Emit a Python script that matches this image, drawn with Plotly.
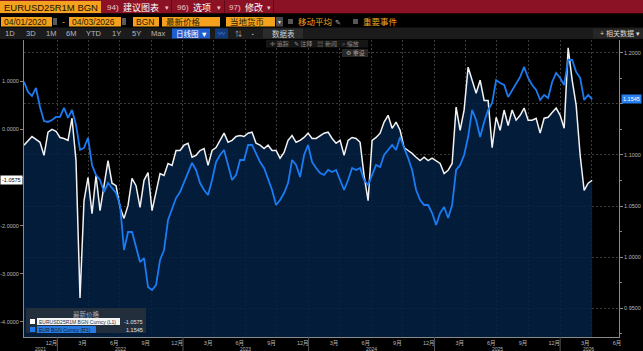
import pandas as pd
import plotly.graph_objects as go

# ---------------- data ----------------
START = "2021-09-26"
END = "2026-04-04"

rr_1m = [-0.33, -0.23, -0.15, -0.21, -0.27, -0.54, -0.06, 0.0, -0.04, -0.17,
         -0.19, -0.23, 0.23, -0.65, -3.5, -1.48, -1.0, -1.75, -0.96, -1.69,
         -1.12, -0.65, -1.12, -1.17, -1.62, -1.85, -1.58, -1.02, -1.17, -1.62,
         -1.06, -0.9, -1.69, -1.27, -0.92, -0.96, -0.71, -0.75, -0.44, -0.44,
         -0.33, -0.29, -0.58, -0.54, -0.44, -0.4, -0.75, -0.44, -0.38, -0.23,
         -0.08, -0.27, -0.23, -0.15, -0.13, -0.15, -0.08, -0.06, -0.29, -0.33,
         -0.4, -0.33, -0.44, -0.44, -0.6, -0.48, -0.23, -0.13, -0.27, -0.23,
         -0.17, -0.08, -0.19, -0.19, -0.13, -0.08, -0.06, -0.19, -0.29, -0.23,
         -0.54, -0.23, -0.17, -0.19, -0.27, -0.96, -1.48, -0.23, -0.17, -0.08,
         0.15, 0.29, 0.02, 0.15, -0.02, -0.38, -0.44, -0.5, -0.58, -0.65,
         -0.58, -0.65, -0.6, -0.65, -0.71, -0.92, -0.85, -0.71, 0.46, -0.02,
         0.4, 1.29, 1.02, 0.75, 1.02, 0.6, 0.6, -0.38, 0.25, -0.02,
         0.4, 0.08, 0.4, 0.19, 0.29, 0.44, 0.19, 0.19, 0.23, -0.08,
         0.23, 0.25, 0.35, 0.44, 0.29, 0.02, 1.69, 1.02, 0.5, -0.54,
         -1.27, -1.12, -1.0575]

eurusd = [1.1716, 1.1618, 1.1578, 1.1657, 1.1471, 1.1333, 1.1324, 1.1343, 1.1373, 1.1373,
          1.1461, 1.1363, 1.1441, 1.1294, 1.1049, 1.1069, 1.1167, 1.0902, 1.0804, 1.0755,
          1.0637, 1.0725, 1.0676, 1.0627, 1.051, 1.0069, 1.0245, 1.0245, 1.0098, 0.995,
          0.999, 0.9706, 0.9676, 0.9725, 0.9971, 1.0069, 1.0363, 1.048, 1.0578, 1.0637,
          1.0735, 1.0833, 1.0922, 1.0853, 1.0725, 1.0657, 1.0608, 1.0755, 1.0931, 1.1,
          1.1049, 1.0902, 1.0755, 1.0804, 1.0951, 1.0951, 1.1098, 1.1098, 1.102, 1.0931,
          1.0873, 1.0755, 1.0657, 1.051, 1.0559, 1.0627, 1.0725, 1.0951, 1.0902, 1.0784,
          1.1, 1.1098, 1.0931, 1.0873, 1.0824, 1.0804, 1.0853, 1.0833, 1.0853, 1.0755,
          1.0657, 1.0755, 1.0873, 1.0853, 1.0873, 1.0755, 1.0706, 1.0804, 1.0902, 1.0882,
          1.1, 1.1049, 1.1098, 1.1049, 1.1176, 1.1069, 1.0971, 1.0853, 1.0657, 1.0559,
          1.051, 1.051, 1.0431, 1.0314, 1.0431, 1.049, 1.0382, 1.051, 1.0853, 1.0902,
          1.1, 1.1176, 1.1441, 1.1343, 1.1176, 1.1324, 1.1441, 1.151, 1.1735, 1.1706,
          1.1686, 1.1569, 1.1637, 1.1706, 1.1765, 1.1863, 1.1755, 1.1686, 1.1637, 1.1539,
          1.1588, 1.1559, 1.1716, 1.1804, 1.1755, 1.1686, 1.1931, 1.1931, 1.1814, 1.1755,
          1.1539, 1.1588, 1.1545]

dates = pd.date_range(START, END, periods=len(rr_1m))

left_ticks = [1.0, 0.0, -1.0, -2.0, -3.0, -4.0]
left_tick_text = ["1.0000", "0.0000", "", "-2.0000", "-3.0000", "-4.0000"]
right_ticks = [0.95, 1.0, 1.05, 1.1, 1.15, 1.2]
right_tick_text = ["0.9500", "1.0000", "1.0500", "1.1000", "", "1.2000"]
right_minor = [0.925, 0.975, 1.025, 1.075, 1.125, 1.175]
month_tick_dates = ["2021-12-15", "2022-03-15", "2022-06-15", "2022-09-15", "2022-12-15",
                    "2023-03-15", "2023-06-15", "2023-09-15", "2023-12-15",
                    "2024-03-15", "2024-06-15", "2024-09-15", "2024-12-15",
                    "2025-03-15", "2025-06-15", "2025-09-15", "2025-12-15",
                    "2026-03-15", "2026-06-15"]
month_tick_text = ["12月", "3月", "6月", "9月", "12月", "3月", "6月", "9月", "12月",
                   "3月", "6月", "9月", "12月", "3月", "6月", "9月", "12月", "3月", "6月"]
quarter_grid = ["2022-01-01", "2022-04-01", "2022-07-01", "2022-10-01",
                "2023-01-01", "2023-04-01", "2023-07-01", "2023-10-01",
                "2024-01-01", "2024-04-01", "2024-07-01", "2024-10-01",
                "2025-01-01", "2025-04-01", "2025-07-01", "2025-10-01",
                "2026-01-01", "2026-04-01"]
year_labels = ["2021", "2022", "2023", "2024", "2025", "2026"]
year_label_pos = ["2021-11-12", "2022-07-02", "2023-07-02", "2024-07-01", "2025-07-02", "2026-03-25"]
year_starts = ["2022-01-01", "2023-01-01", "2024-01-01", "2025-01-01", "2026-01-01"]

X_RANGE = ["2021-09-26", "2026-06-21"]
Y_LEFT = [-4.3125, 1.854]
Y_RIGHT = [0.9216, 1.2127]

# ---------------- styling ----------------
FONT = "Liberation Sans, Noto Sans CJK SC, sans-serif"
NAVY = "rgba(3,33,68,0.86)"
WHITE = "#f2f2f2"
BLUE = "#1b7bf2"
GRID = "#3a3a3a"
AX = "#8a8a8a"
TXT = "#b8b8b8"
ORANGE = "#f4a11e"
RED = "#8b1224"

fig = go.Figure()
fig.add_trace(go.Scatter(x=dates, y=[Y_LEFT[0]] * len(dates), mode="lines",
                         line=dict(width=0), hoverinfo="skip", showlegend=False))
fig.add_trace(go.Scatter(x=dates, y=rr_1m, mode="lines", fill="tonexty", fillcolor=NAVY,
                         line=dict(color=WHITE, width=1.5), name="EURUSD25R1M BGN Curncy (L1)",
                         showlegend=False))
fig.add_trace(go.Scatter(x=dates, y=eurusd, mode="lines", yaxis="y2",
                         line=dict(color=BLUE, width=1.8), name="EUR BGN Curncy (R1)",
                         showlegend=False))

PL, PT = 24, 40
shapes, annos = [], []


def rect(x0, y0, x1, y1, color, lc=None):
    shapes.append(dict(type="rect", xref="paper", yref="paper", xsizemode="pixel",
                       ysizemode="pixel", xanchor=0, yanchor=1, x0=x0 - PL, x1=x1 - PL,
                       y0=PT - y1, y1=PT - y0, fillcolor=color,
                       line=dict(width=1 if lc else 0, color=lc or color), layer="above"))


def text(x, y, s, color, size=8, anchor="left", bg=None, pad=0):
    annos.append(dict(xref="paper", yref="paper", x=0, y=1, xshift=x - PL, yshift=PT - y,
                      text=s, showarrow=False, xanchor=anchor, yanchor="middle",
                      font=dict(color=color, size=size, family=FONT),
                      bgcolor=bg, borderpad=pad))


# header row 1
rect(0, 0, 643, 13.5, RED)
rect(0, 1, 101, 13, ORANGE)
text(3, 7, "EURUSD25R1M BGN", "#1a1200", 9.5)
for sx in [171, 224, 273]:
    rect(sx, 0, sx + 1, 13.5, "#5e0a17")
text(106, 7, "94)", "#f0c8cc", 8)
text(122, 7, "建议图表", "#ffffff", 9)
text(164, 7, "▾", "#f0c8cc", 7)
text(176, 7, "96)", "#f0c8cc", 8)
text(192, 7, "选项", "#ffffff", 9)
text(216, 7, "▾", "#f0c8cc", 7)
text(228, 7, "97)", "#f0c8cc", 8)
text(244, 7, "修改", "#ffffff", 9)
text(266, 7, "▾", "#f0c8cc", 7)

# header row 2
rect(0, 13.5, 643, 27.5, "#000000")
rect(1, 17, 52, 26.5, ORANGE)
text(3, 22, "04/01/2020", "#2b1d00", 8.5)
rect(53, 18, 57, 25, "#5a5a5a")
text(63, 21.5, "-", ORANGE, 9, "center")
rect(69, 17, 121, 26.5, ORANGE)
text(71, 22, "04/03/2026", "#2b1d00", 8.5)
rect(122, 18, 126, 25, "#5a5a5a")
rect(133, 17, 159, 26.5, ORANGE)
text(135, 22, "BGN", "#2b1d00", 8.5)
rect(162, 17, 220, 26.5, ORANGE)
text(165, 22, "最新价格", "#2b1d00", 8.5)
rect(226, 17, 275, 26.5, ORANGE)
text(229, 22, "当地货币", "#2b1d00", 8.5)
rect(276, 17, 283, 26.5, "#4a4a4a")
text(279.5, 22, "▾", "#dddddd", 6, "center")
rect(288, 19, 293, 24, "#555555")
text(297, 22, "移动平均", ORANGE, 8.5)
text(334, 22, "✎", "#bbbbbb", 7)
rect(353, 19, 358, 24, "#555555")
text(362, 22, "重要事件", ORANGE, 8.5)

# header row 3
rect(0, 27.5, 643, 39, "#1b1b1b")
for lbl, cx in [("1D", 10), ("3D", 31), ("1M", 51), ("6M", 71), ("YTD", 94),
                ("1Y", 116), ("5Y", 136), ("Max", 158)]:
    text(cx, 33.5, lbl, TXT, 7.5, "center")
rect(172, 28.5, 210, 38.5, "#1e5fd0")
text(175, 33.5, "日线图 ▼", "#ffffff", 7.5)
rect(215, 28.5, 228, 38.5, "#123a7a")
text(221.5, 33.5, "〰", "#6fa8ff", 7, "center")
text(238, 33.5, "⇅", TXT, 7, "center")
text(253, 33.5, "▪", TXT, 5, "center")
rect(263, 28.5, 303, 38.5, "#2c2c2c")
text(283, 33.5, "数据表", "#cfcfcf", 7.5, "center")
rect(593, 28.5, 643, 38.5, "#262626")
text(641, 33.5, "+ 相关数据 ▾", "#d8d8d8", 7, "right")

# chart toolbar
rect(266, 40, 368, 47.5, "#161616")
text(269, 44, "✛ 追踪   ✎ 注释   ▤ 新闻   ⌕ 缩放", "#8c8c8c", 6)
rect(342, 49, 368, 57, "#262626")
text(345, 53, "⚙ 重设", "#a0a0a0", 6)

# legend box
rect(26, 308, 146, 333, "rgba(38,48,62,0.92)")
text(86, 314, "最新价格", "#a8b0bc", 6.5, "center")
rect(30, 319, 35, 324, "#ffffff")
rect(37, 318, 120, 325, "#f4f4f4")
text(38, 321.5, "EURUSD25R1M BGN Curncy (L1)", "#2a3340", 5)
text(144, 321.5, "-1.0575", "#e0e0e0", 5.5, "right")
rect(30, 327, 35, 332, BLUE)
rect(37, 326, 96, 333, "#2a79e0")
text(38, 329.5, "EUR BGN Curncy (R1)", "#0c1626", 5)
text(144, 329.5, "1.1545", "#e0e0e0", 5.5, "right")

# last-value tags
annos.append(dict(xref="paper", yref="y", x=0, y=rr_1m[-1], xshift=-1, text="-1.0575",
                  showarrow=False, xanchor="right", yanchor="middle", bgcolor="#ffffff",
                  borderpad=1, font=dict(color="#000000", size=5.5, family=FONT)))
annos.append(dict(xref="paper", yref="y2", x=1, y=eurusd[-1], xshift=2, text="1.1545",
                  showarrow=False, xanchor="left", yanchor="middle", bgcolor="#2a7ff0",
                  borderpad=1, font=dict(color="#ffffff", size=5.5, family=FONT)))

# year labels and separators
for lbl, pos in zip(year_labels, year_label_pos):
    annos.append(dict(xref="x", yref="paper", x=pos, y=0, yshift=-11.5, text=lbl,
                      showarrow=False, xanchor="center", yanchor="middle",
                      font=dict(color=TXT, size=5, family=FONT)))
for ys in year_starts:
    shapes.append(dict(type="line", xref="x", yref="paper", x0=ys, x1=ys, y0=0, y1=-0.05,
                       line=dict(color="#555555", width=1)))

fig.update_layout(
    width=643, height=351,
    margin=dict(l=PL, r=24, t=PT, b=14, autoexpand=False),
    paper_bgcolor="#000000", plot_bgcolor="#000000",
    showlegend=False,
    shapes=shapes, annotations=annos,
    xaxis=dict(type="date", range=X_RANGE, tickmode="array", tickvals=month_tick_dates,
               ticktext=month_tick_text, ticks="", ticklen=0, ticklabelstandoff=0,
               showgrid=False, zeroline=False,
               showline=True, linecolor=AX, linewidth=1, automargin=False,
               tickfont=dict(color=TXT, size=5.5, family=FONT),
               minor=dict(tickmode="array", tickvals=quarter_grid, showgrid=True,
                          gridcolor=GRID, griddash="2px,2px", gridwidth=1, ticks="")),
    yaxis=dict(range=Y_LEFT, tickmode="array", tickvals=left_ticks,
               ticktext=left_tick_text, showgrid=False, zeroline=False,
               showline=True, linecolor=AX, ticks="outside", ticklen=3, tickcolor=AX,
               automargin=False, tickfont=dict(color=TXT, size=5.5, family=FONT)),
    yaxis2=dict(range=Y_RIGHT, overlaying="y", side="right", tickmode="array",
                tickvals=right_ticks, ticktext=right_tick_text,
                showgrid=True, gridcolor=GRID, griddash="2px,2px", zeroline=False,
                showline=True, linecolor=AX, ticks="outside", ticklen=3, tickcolor=AX,
                automargin=False, tickfont=dict(color=TXT, size=5.5, family=FONT),
                minor=dict(tickmode="array", tickvals=right_minor, ticks="outside",
                           ticklen=2, tickcolor=AX, showgrid=False)),
)

fig.write_html("out.html")
